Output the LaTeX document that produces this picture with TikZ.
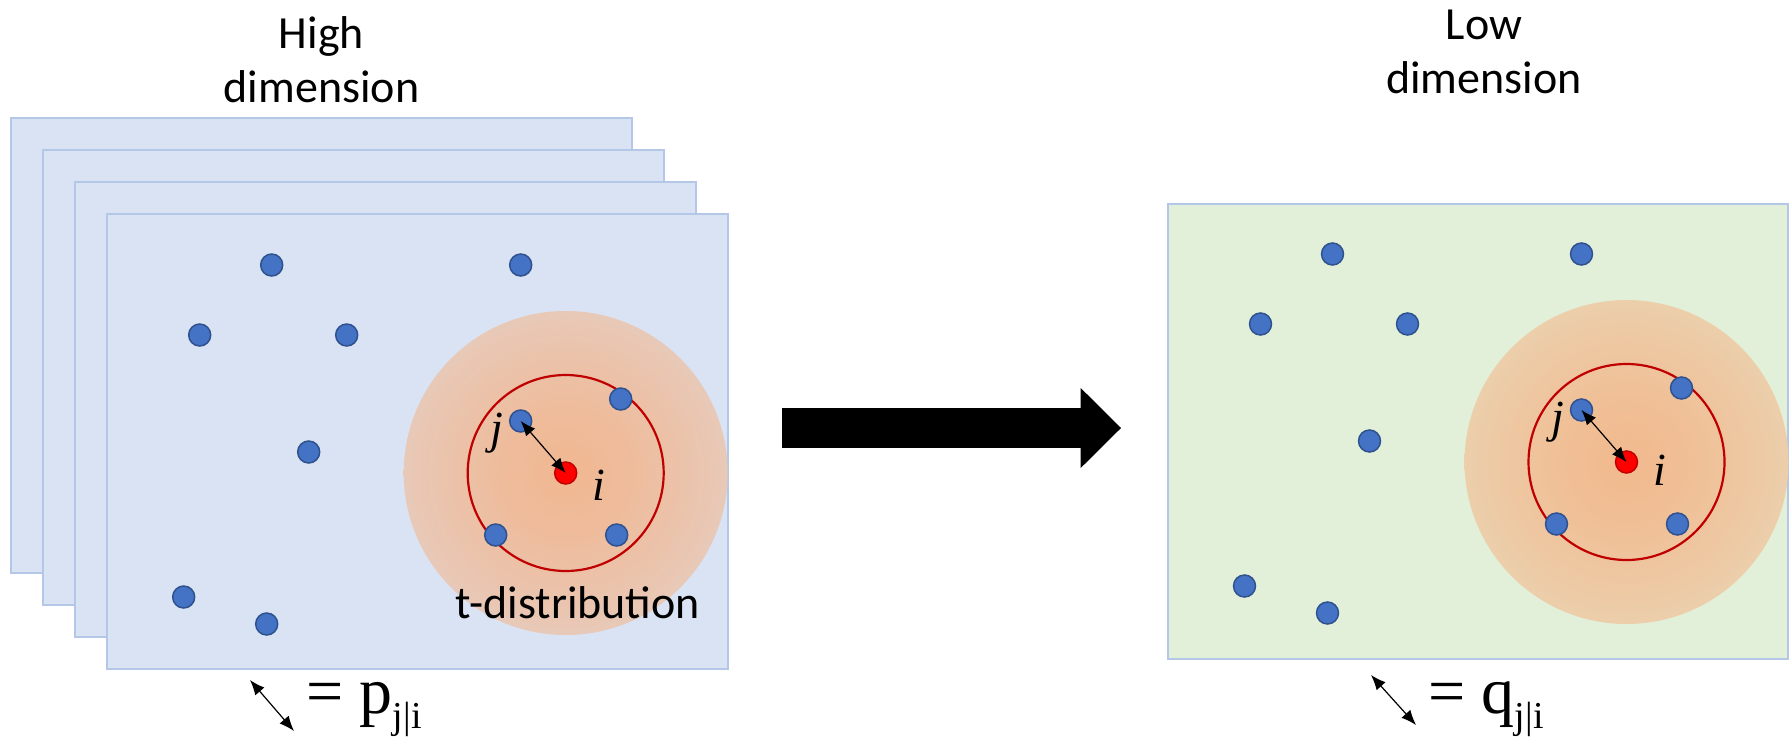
\documentclass[tikz,border=0pt]{standalone}
\usepackage{fontspec}
\setmainfont{Carlito}
\newfontfamily\timesfont{Liberation Serif}
\usetikzlibrary{arrows.meta,positioning}

\definecolor{sheetfill}{RGB}{218,227,243}
\definecolor{sheetline}{RGB}{180,199,231}
\definecolor{lowfill}{RGB}{226,240,217}
\definecolor{dotfill}{RGB}{68,114,196}
\definecolor{dotline}{RGB}{47,82,143}
\definecolor{ringred}{RGB}{192,0,0}
\definecolor{glow}{RGB}{244,177,131}

\pgfdeclareradialshading{highglow}{\pgfpointorigin}{%
    color(0bp)=(glow!88!sheetfill); color(10bp)=(glow!78!sheetfill);
    color(20bp)=(glow!62!sheetfill); color(30bp)=(glow!44!sheetfill);
    color(40bp)=(glow!24!sheetfill); color(50bp)=(glow!9!sheetfill)}
\pgfdeclareradialshading{lowglow}{\pgfpointorigin}{%
    color(0bp)=(glow!88!lowfill); color(10bp)=(glow!78!lowfill);
    color(20bp)=(glow!62!lowfill); color(30bp)=(glow!44!lowfill);
    color(40bp)=(glow!24!lowfill); color(50bp)=(glow!9!lowfill)}

\tikzset{
    datapt/.style={circle, fill=dotfill, draw=dotline, line width=1.5pt, minimum size=22pt, inner sep=0pt},
    centerpt/.style={circle, fill=red, draw=ringred, line width=1.5pt, minimum size=22pt, inner sep=0pt},
    sheet/.style={fill=sheetfill, draw=sheetline, line width=2pt},
    dist/.style={{Latex[length=15pt,width=12pt]}-{Latex[length=15pt,width=12pt]}, line width=1.2pt},
    title/.style={align=center, anchor=base, font=\fontsize{46}{54}\selectfont},
    lbl/.style={font=\timesfont\itshape\fontsize{46}{50}\selectfont, inner sep=0pt},
    legend/.style={anchor=base west, inner sep=0pt, font=\timesfont\fontsize{66}{70}\selectfont}
}

\begin{document}
\begin{tikzpicture}[x=1pt, y=-1pt]
    \useasboundingbox (0,0) rectangle (1791,737);

    % high dimension: stacked sheets
    \foreach \k in {0,...,3}
        \draw[sheet] (10.7+32*\k, 118.3+32*\k) rectangle ++(621,455);
    \node[title] (htitle) at (321.5,102) {High\\dimension};

    \begin{scope}[shift={(106.7,215)}]
        \shade[shading=highglow] (459,258) circle (162);
        \node[centerpt] (hi) at (459,258) {};
        \draw[ringred, line width=2.2pt] (hi.center) circle (98);
        \foreach \x/\y [count=\n] in {165/50, 414/50, 93/120, 240/120, 202/237, 77/382, 160/409}
            \node[datapt] (h\n) at (\x,\y) {};
        \node[datapt] (hj) at (414,206) {};
        \node[datapt] (ha) at (514,184) {};
        \node[datapt] (hb) at (389,320) {};
        \node[datapt] (hc) at (510,320) {};
        \draw[dist] (hj.center) -- (hi.center);
        \node[lbl] (hjlab) at (390,218) {j};
        \node[lbl] (hilab) at (492,270) {i};
        \node[anchor=base, font=\fontsize{46}{53}\selectfont] (tdist) at (471,403) {t-distribution};
    \end{scope}

    % low dimension
    \draw[sheet, fill=lowfill] (1167.5,204) rectangle ++(620.5,455);
    \node[title] (ltitle) at (1484,93) {Low\\dimension};

    \begin{scope}[shift={(1167.5,204)}]
        \shade[shading=lowglow] (459,258) circle (162);
        \node[centerpt] (li) at (459,258) {};
        \draw[ringred, line width=2.2pt] (li.center) circle (98);
        \foreach \x/\y [count=\n] in {165/50, 414/50, 93/120, 240/120, 202/237, 77/382, 160/409}
            \node[datapt] (l\n) at (\x,\y) {};
        \node[datapt] (lj) at (414,206) {};
        \node[datapt] (la) at (514,184) {};
        \node[datapt] (lb) at (389,320) {};
        \node[datapt] (lc) at (510,320) {};
        \draw[dist] (lj.center) -- (li.center);
        \node[lbl] (ljlab) at (390,218) {j};
        \node[lbl] (lilab) at (492,266) {i};
    \end{scope}

    % big arrow
    \coordinate (bigfrom) at (781.7,428);
    \coordinate (bigto) at (1121,428);
    \draw[line width=40pt, -{Triangle[length=40.3pt,width=80pt,line width=0pt]}] (bigfrom) -- (bigto);

    % legends
    \coordinate (hl1) at (250,680);
    \coordinate (hl2) at (294,731);
    \draw[dist] (hl1) -- (hl2);
    \node[legend] (hlegend) at (306,713) {= p\raisebox{-15pt}{\fontsize{38}{40}\selectfont j|i}};
    \coordinate (ll1) at (1371,675);
    \coordinate (ll2) at (1416,725);
    \draw[dist] (ll1) -- (ll2);
    \node[legend] (llegend) at (1428,713) {= q\raisebox{-15pt}{\fontsize{38}{40}\selectfont j|i}};
\end{tikzpicture}
\end{document}
